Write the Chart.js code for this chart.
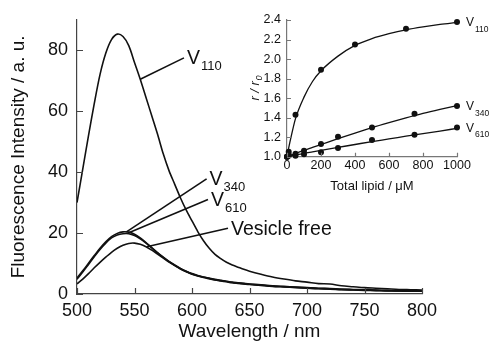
<!DOCTYPE html>
<html>
<head>
<meta charset="utf-8">
<script src="https://cdn.jsdelivr.net/npm/chart.js@4.4.1/dist/chart.umd.min.js"></script>
<style>
html, body { margin: 0; padding: 0; background: #fff; }
#wrap { position: relative; width: 490px; height: 343px; }
#main { position: absolute; left: 0; top: 0; }
#inset { position: absolute; left: 245px; top: 0; }
</style>
</head>
<body>
<div id="wrap">
  <canvas id="main" width="490" height="343"></canvas>
  <canvas id="inset" width="245" height="200"></canvas>
</div>
<script>
// main spectra
const wavelength = [500,505,510,515,520,525,530,535,540,545,550,555,560,565,570,575,580,585,590,595,600,605,610,615,620,625,630,635,640,645,650,
                    660,670,680,690,700,710,720,730,740,750,760,770,780,790,800];
const v110 = [30,41,52,62.5,72,79,83.5,85.3,84.5,81.5,76,70.5,64.5,58.5,52.5,46,40.5,36,31.5,27.5,24,20.5,17.5,15,13,11.6,10.4,9.5,8.8,8.1,7.5,
              6.5,5.6,4.9,4.3,3.9,3.4,3.3,2.7,2.4,2.1,1.9,1.7,1.5,1.4,1.3];
const v340 = [5.2,7.6,10.1,12.6,15,17.1,18.8,19.9,20.4,20.3,19.6,18.4,16.9,15.2,13.6,12.1,10.7,9.5,8.4,7.5,6.7,6.1,5.6,5.2,4.8,4.5,4.2,3.9,3.7,3.5,3.3,
              3.0,2.7,2.5,2.3,2.1,1.9,1.8,1.6,1.5,1.4,1.3,1.2,1.1,1.1,1.0];
const v610 = [4.8,7.2,9.7,12.2,14.6,16.7,18.4,19.4,19.8,19.8,19.2,18.1,16.7,15.1,13.5,12.0,10.6,9.4,8.3,7.4,6.6,6.0,5.5,5.1,4.7,4.4,4.1,3.8,3.6,3.4,3.2,
              2.9,2.6,2.4,2.2,2.0,1.8,1.7,1.5,1.4,1.3,1.2,1.1,1.0,1.0,0.9];
const vesicleFree = [3.3,4.9,6.7,8.6,10.4,12.1,13.7,15.0,16.0,16.6,16.7,16.3,15.5,14.4,13.1,11.8,10.5,9.3,8.2,7.3,6.5,5.9,5.4,5.0,4.6,4.3,4.0,3.7,3.5,3.3,3.1,
                     2.8,2.5,2.3,2.1,1.9,1.7,1.6,1.4,1.3,1.2,1.1,1.0,1.0,0.9,0.9];

// inset: r / r0 vs total lipid
const lipid110 = [0,10,50,200,400,700,1000];
const ratio110 = [1.0,1.05,1.43,1.89,2.15,2.31,2.38];
const lipid = [0,10,50,100,200,300,500,750,1000];
const ratio340 = [1.0,1.02,1.03,1.06,1.13,1.205,1.30,1.44,1.52];
const ratio610 = [1.0,1.01,1.01,1.025,1.045,1.09,1.17,1.225,1.30];
const fitLipid = [0,10,25,50,100,150,200,300,400,500,600,700,800,900,1000];
const fit110 = [1.0,1.09,1.21,1.39,1.61,1.77,1.88,2.03,2.14,2.21,2.26,2.30,2.33,2.355,2.375];
const fit340 = [1.0,1.007,1.017,1.033,1.065,1.095,1.125,1.185,1.242,1.297,1.348,1.397,1.443,1.484,1.522];
const fit610 = [1.0,1.004,1.009,1.018,1.035,1.05,1.065,1.095,1.125,1.155,1.182,1.21,1.237,1.263,1.29];

const FONT = "'Liberation Sans', Arial, sans-serif";
const INK = '#111';

const pts = (xs, ys) => xs.map((x, i) => ({x: x, y: ys[i]}));

function drawLabel(ctx, x, y, main, sub, size, subSize, dy) {
    ctx.textAlign = 'left';
    ctx.textBaseline = 'alphabetic';
    ctx.font = size + 'px ' + FONT;
    ctx.fillText(main, x, y);
    if (sub) {
        const w = ctx.measureText(main).width;
        ctx.font = subSize + 'px ' + FONT;
        ctx.fillText(sub, x + w + 1, y + dy);
    }
}

// short tick marks pointing into the plot
function inwardTicks(len, color) {
    return {
        id: 'inwardTicks',
        afterDraw(chart) {
            const {ctx, chartArea: a, scales: {x, y}} = chart;
            ctx.save();
            ctx.strokeStyle = color;
            ctx.lineWidth = 1.2;
            ctx.beginPath();
            x.ticks.forEach(t => {
                const px = Math.round(x.getPixelForValue(t.value)) + 0.5;
                ctx.moveTo(px, a.bottom);
                ctx.lineTo(px, a.bottom - len);
            });
            y.ticks.forEach(t => {
                const py = Math.round(y.getPixelForValue(t.value)) + 0.5;
                ctx.moveTo(a.left, py);
                ctx.lineTo(a.left + len, py);
            });
            ctx.stroke();
            ctx.restore();
        }
    };
}

function spectrum(data) {
    return {
        data: pts(wavelength, data),
        borderColor: INK,
        borderWidth: 1.6,
        pointRadius: 0,
        tension: 0.3,
        fill: false,
    };
}

// leader lines + labels for the spectra
const leaderPlugin = {
    id: 'leaders',
    afterDatasetsDraw(chart) {
        const {ctx, scales: {x, y}} = chart;
        const leaders = [
            {from: [555, 70.5], to: [593, 77.5], text: 'V', sub: '110'},
            {from: [543, 20.4], to: [612.7, 37.8], text: 'V', sub: '340'},
            {from: [544.5, 20.0], to: [613.9, 31.0], text: 'V', sub: '610'},
            {from: [560.6, 15.5], to: [631.3, 21.6], text: 'Vesicle free', sub: ''},
        ];
        ctx.save();
        ctx.strokeStyle = INK;
        ctx.fillStyle = INK;
        ctx.lineWidth = 1.6;
        leaders.forEach(l => {
            const x0 = x.getPixelForValue(l.from[0]), y0 = y.getPixelForValue(l.from[1]);
            const x1 = x.getPixelForValue(l.to[0]), y1 = y.getPixelForValue(l.to[1]);
            ctx.beginPath();
            ctx.moveTo(x0, y0);
            ctx.lineTo(x1, y1);
            ctx.stroke();
            drawLabel(ctx, x1 + 3, y1 + 6.5, l.text, l.sub, 19.5, 13, 6);
        });
        ctx.restore();
    }
};

new Chart(document.getElementById('main'), {
    type: 'line',
    data: {
        datasets: [spectrum(v110), spectrum(v340), spectrum(v610), spectrum(vesicleFree)],
    },
    options: {
        responsive: false,
        animation: false,
        layout: {padding: {left: 0, right: 68, top: 18, bottom: 0}},
        plugins: {legend: {display: false}, tooltip: {enabled: false}},
        scales: {
            x: {
                type: 'linear', min: 500, max: 800,
                ticks: {stepSize: 50, autoSkip: false, maxRotation: 0, padding: 6, color: INK, font: {family: FONT, size: 18}},
                grid: {drawOnChartArea: false, drawTicks: false},
                border: {color: '#444', width: 1.2},
                title: {display: true, text: 'Wavelength / nm', color: INK, font: {family: FONT, size: 19}, padding: {top: 0, bottom: 0}},
                afterFit: s => { s.height = 49; },
            },
            y: {
                min: 0, max: 90,
                ticks: {stepSize: 20, includeBounds: false, padding: 9, color: INK, font: {family: FONT, size: 18}},
                grid: {drawOnChartArea: false, drawTicks: false},
                border: {color: '#444', width: 1.2},
                title: {display: true, text: 'Fluorescence Intensity / a. u.', color: INK, font: {family: FONT, size: 19}, padding: {top: 7, bottom: 0}},
                afterFit: s => { s.width = 77; },
            },
        },
    },
    plugins: [leaderPlugin, inwardTicks(6, '#444')],
});

// inset
function points(xs, ys) {
    return {
        data: pts(xs, ys), showLine: false, pointRadius: 3, pointBorderWidth: 0,
        pointBackgroundColor: INK, clip: false,
    };
}
function fitLine(ys) {
    return {
        data: pts(fitLipid, ys), borderColor: INK, borderWidth: 1.3,
        pointRadius: 0, cubicInterpolationMode: 'monotone', clip: false,
    };
}

const insetLabels = {
    id: 'insetLabels',
    afterDatasetsDraw(chart) {
        const {ctx, scales: {x, y}} = chart;
        const tags = [
            {at: [1000, ratio110[ratio110.length - 1]], sub: '110'},
            {at: [1000, ratio340[ratio340.length - 1]], sub: '340'},
            {at: [1000, ratio610[ratio610.length - 1]], sub: '610'},
        ];
        ctx.save();
        ctx.fillStyle = INK;
        tags.forEach(t => {
            const px = x.getPixelForValue(t.at[0]), py = y.getPixelForValue(t.at[1]);
            drawLabel(ctx, px + 9, py + 4.5, 'V', t.sub, 12, 8.5, 5.5);
        });
        // y title  r / r0 (rotated)
        const cy = (y.top + y.bottom) / 2;
        ctx.translate(10, cy);
        ctx.rotate(-Math.PI / 2);
        ctx.font = 'italic 13px ' + FONT;
        const main = 'r / r';
        const w = ctx.measureText(main).width;
        ctx.font = 'italic 9px ' + FONT;
        const ws = ctx.measureText('0').width;
        const start = -(w + ws) / 2;
        ctx.font = 'italic 13px ' + FONT;
        ctx.textBaseline = 'middle';
        ctx.fillText(main, start, 0);
        ctx.font = 'italic 9px ' + FONT;
        ctx.fillText('0', start + w + 0.5, 4);
        ctx.restore();
    }
};

new Chart(document.getElementById('inset'), {
    type: 'line',
    data: {
        datasets: [
            fitLine(fit110), fitLine(fit340), fitLine(fit610),
            points(lipid110, ratio110), points(lipid, ratio340), points(lipid, ratio610),
        ],
    },
    options: {
        responsive: false,
        animation: false,
        layout: {padding: {left: 0, right: 33, top: 20, bottom: 0}},
        plugins: {legend: {display: false}, tooltip: {enabled: false}},
        scales: {
            x: {
                type: 'linear', min: 0, max: 1000,
                ticks: {stepSize: 200, autoSkip: false, maxRotation: 0, padding: 1, color: INK, font: {family: FONT, size: 12.5}, callback: v => String(v)},
                grid: {drawOnChartArea: false, drawTicks: false},
                border: {color: '#777', width: 1.2},
                title: {display: true, text: 'Total lipid / \u03bcM', color: INK, font: {family: FONT, size: 13}, padding: {top: 0, bottom: 6}},
                afterFit: s => { s.height = 43.3; },
            },
            y: {
                min: 1.0, max: 2.4,
                ticks: {stepSize: 0.2, padding: 6, color: INK, font: {family: FONT, size: 12.5}, callback: v => v.toFixed(1)},
                grid: {drawOnChartArea: false, drawTicks: false},
                border: {color: '#777', width: 1.2},
                afterFit: s => { s.width = 42; },
            },
        },
    },
    plugins: [insetLabels, inwardTicks(4, '#777')],
});
</script>
</body>
</html>
